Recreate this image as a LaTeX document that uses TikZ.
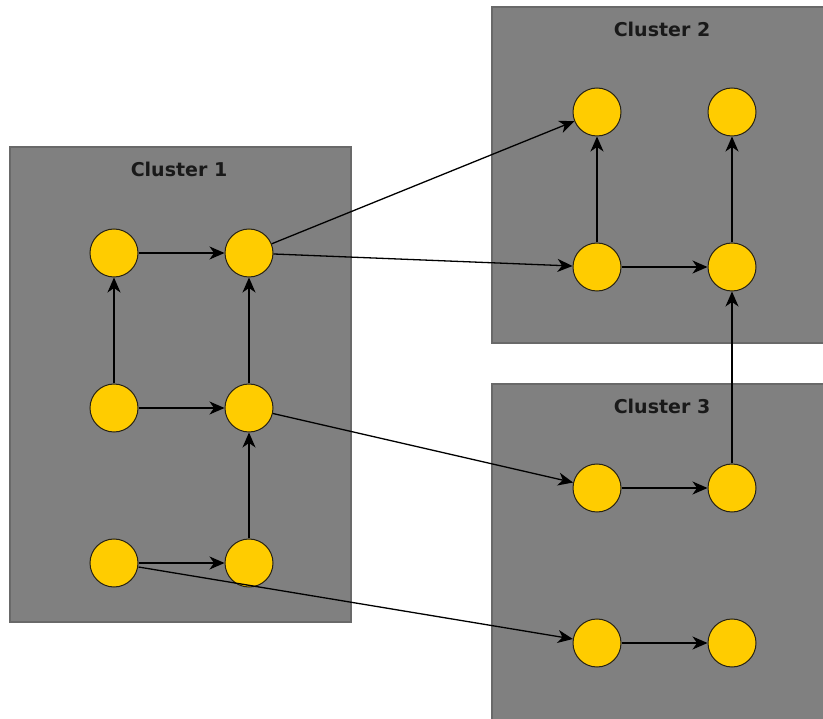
\documentclass[tikz,border=0pt]{standalone}
\usepackage{fontspec}
\newfontfamily\labelfont{DejaVu Sans}
\usetikzlibrary{arrows.meta}
\definecolor{boxfill}{RGB}{128,128,128}
\definecolor{boxline}{RGB}{105,105,105}
\definecolor{nodefill}{RGB}{255,204,0}
\definecolor{nodeline}{RGB}{40,35,20}
\definecolor{labelcol}{RGB}{25,25,25}
\begin{document}
\begin{tikzpicture}[x=1pt,y=-1pt,
  cluster/.style={fill=boxfill,draw=boxline,line width=1.2pt},
  vtx/.style={circle,fill=nodefill,draw=nodeline,line width=1pt,minimum size=48pt,inner sep=0pt},
  clabel/.style={font=\labelfont\bfseries\fontsize{19}{21}\selectfont,text=labelcol,inner sep=0pt},
  edge/.style={draw=black,line width=1.3pt,-{Stealth[length=15pt,width=13pt,inset=4.5pt]}},
  plain/.style={draw=black,line width=1.3pt}]
\useasboundingbox (0,0) rectangle (823,719);
\begin{scope}
\clip (0,0) rectangle (823,719);
\draw[cluster] (10,147) rectangle (351,622);
\draw[cluster] (492,7) rectangle (832,343);
\draw[cluster] (492,384) rectangle (832,730);
\end{scope}
\node[clabel] (l1) at (179,169) {Cluster 1};
\node[clabel] (l2) at (662,29) {Cluster 2};
\node[clabel] (l3) at (662,406) {Cluster 3};
% cluster 1
\node[vtx] (a) at (114,253) {};
\node[vtx] (b) at (249,253) {};
\node[vtx] (c) at (114,408) {};
\node[vtx] (d) at (249,408) {};
\node[vtx] (e) at (114,563) {};
\node[vtx] (f) at (249,563) {};
% cluster 2
\node[vtx] (g) at (597,112) {};
\node[vtx] (h) at (597,267) {};
\node[vtx] (j) at (732,112) {};
\node[vtx] (k) at (732,267) {};
% cluster 3
\node[vtx] (m) at (597,488) {};
\node[vtx] (n) at (732,488) {};
\node[vtx] (p) at (597,643) {};
\node[vtx] (q) at (732,643) {};
% edges
\draw[edge] (a) -- (b);
\draw[edge] (c) -- (a);
\draw[edge] (c) -- (d);
\draw[edge] (d) -- (b);
\draw[edge] (e) -- (f);
\draw[edge] (f) -- (d);
\draw[edge] (b) -- (g);
\draw[edge] (b) -- (h);
\draw[edge] (d) -- (m);
\draw[edge] (e.east) ++(0,4) coordinate (es) (es) -- (p);
\draw[edge] (h) -- (g);
\draw[edge] (h) -- (k);
\draw[edge] (k) -- (j);
\draw[edge] (m) -- (n);
\draw[edge] (n) -- (k);
\draw[edge] (p) -- (q);
\end{tikzpicture}
\end{document}
